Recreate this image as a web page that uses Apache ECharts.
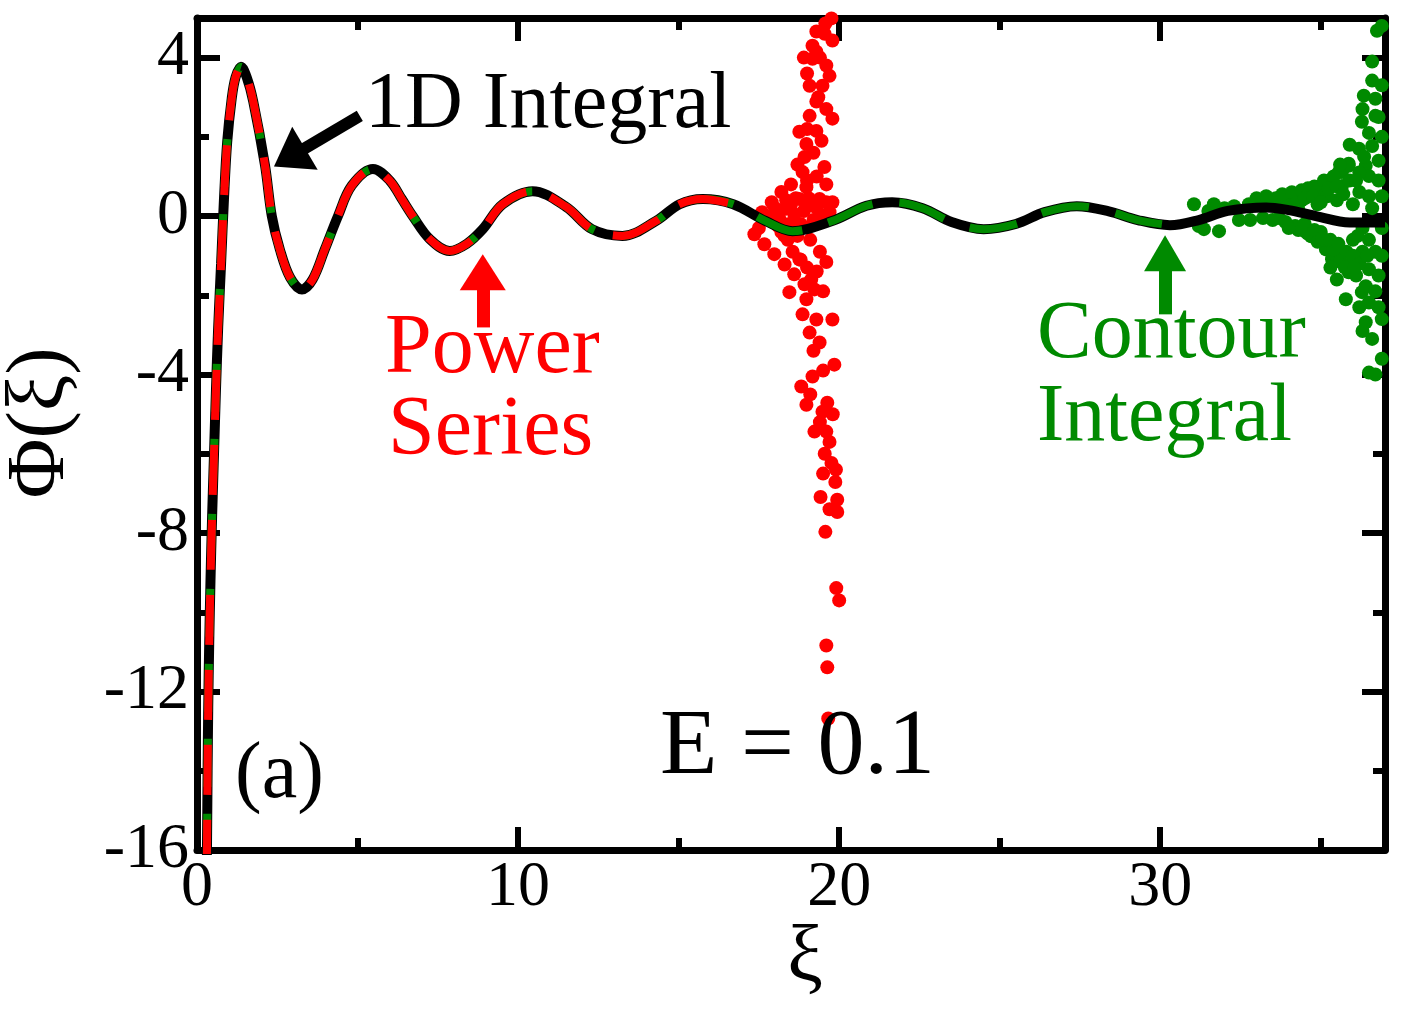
<!DOCTYPE html>
<html><head><meta charset="utf-8">
<script src="https://cdn.jsdelivr.net/npm/echarts@6/dist/echarts.min.js"></script>
<style>html,body{margin:0;padding:0;background:#fff;}#c{width:1401px;height:1010px;}</style>
</head><body><div id="c"></div><script>
// ---- data ----
const xTickLabels = [0, 10, 20, 30];
const yTickLabels = [-16, -12, -8, -4, 0, 4];
const xRange = [0, 37];
const yRange = [-16, 5];

// 1D integral curve (xi, Phi)
const curve = [
  [0.30,-16.5],[0.31,-16.0],[0.33,-14.0],[0.35,-12.4],[0.38,-10.8],[0.42,-9.2],[0.47,-7.6],
  [0.53,-6.0],[0.59,-4.4],[0.66,-2.8],[0.75,-1.2],[0.84,0.43],[0.94,1.87],[1.08,2.96],
  [1.2,3.5],[1.37,3.77],[1.55,3.5],[1.75,2.9],[2.12,1.27],[2.33,0.0],[2.58,-0.84],
  [2.9,-1.55],[3.27,-1.85],[3.6,-1.6],[3.98,-0.84],[4.39,0.0],[4.82,0.77],[5.48,1.19],
  [6.0,0.9],[6.38,0.43],[6.72,0.0],[7.25,-0.58],[7.87,-0.88],[8.4,-0.7],[8.9,-0.33],
  [9.52,0.3],[10.45,0.63],[11.5,0.23],[12.3,-0.33],[13.25,-0.5],[14.3,-0.12],[15.03,0.3],
  [15.75,0.43],[16.7,0.3],[17.7,-0.12],[18.55,-0.38],[19.8,-0.12],[20.85,0.26],[21.65,0.35],
  [22.6,0.2],[23.5,-0.15],[24.5,-0.33],[25.5,-0.2],[26.4,0.1],[27.4,0.25],[28.4,0.12],
  [29.3,-0.1],[30.3,-0.23],[31.2,-0.1],[32.1,0.13],[33.3,0.22],[34.0,0.15],[34.85,0.0],
  [35.9,-0.16],[37.0,-0.16]
];
const powerSeriesLineEnd = 17.0;   // power-series line stops here, then diverges
const contourLineEnd = 30.6;       // contour-integral line stops here, then scatters

// divergent power-series points (xi, Phi)
const powerSeriesScatter = [
  [19.29,4.66],[19.79,4.43],[19.17,4.30],[19.29,4.15],[19.17,3.97],[19.70,3.54],[19.08,3.29],
  [19.48,3.29],[19.29,2.89],[19.08,2.53],[19.79,2.46],[18.76,2.13],[19.29,2.15],[18.98,1.82],
  [18.92,1.49],[19.54,1.24],[18.86,1.11],[18.98,0.73],[18.20,0.61],[18.76,0.43],[19.39,0.43],
  [19.79,0.35],[18.3,0.18],[18.6,0.05],[18.9,0.13],[18.45,-0.2],[18.9,-0.28],[18.14,-0.08],
  [17.83,-0.03],[18.0,0.2],[18.5,0.3],[19.0,0.25],[19.2,-0.1],[18.7,-0.5],[19.1,-0.6],
  [18.4,-0.6],[19.4,-0.9],[18.2,-0.4],[19.5,0.0],[17.6,0.1],
  [17.36,-0.46],[17.67,-0.71],[17.98,-0.96],[18.3,-1.22],[18.6,-1.47],[18.92,-1.72],
  [19.23,-1.85],[19.13,-1.6],[19.6,-1.16],[18.76,-1.09],[18.45,-1.92],[18.98,-2.10],
  [18.86,-2.48],[19.29,-2.61],[19.79,-2.61],[19.08,-2.94],[19.39,-3.19],[19.85,-3.75],
  [19.17,-4.05],[18.82,-4.30],[18.98,-4.76],[19.48,-4.94],[19.63,-4.71],[19.23,-5.44],
  [19.6,-5.44],[19.70,-5.70],[19.76,-6.23],[19.88,-6.71],[19.42,-7.09],[19.94,-7.16],
  [19.94,-7.47],[19.57,-7.97],[19.91,-9.39],[20.0,-9.70],[19.6,-10.84],[19.63,-11.39],
  [19.66,-12.68],[19.57,4.86],[19.76,4.99],
  [19.4,4.0],[19.6,3.8],[19.0,3.6],[19.35,3.0],[19.6,2.7],[19.0,2.2],[19.45,1.9],[19.2,1.6],
  [18.7,1.3],[19.3,1.0],[19.0,0.9],[19.6,0.8],[18.5,0.8],[18.9,4.0],[19.55,4.6],
  [17.9,0.35],[18.1,-0.25],[18.35,0.4],[18.65,0.45],[18.8,-0.2],[19.05,0.45],[19.3,0.2],
  [19.6,0.35],[19.7,0.1],[18.55,-0.9],[18.8,-1.1],[19.0,-1.3],[19.3,-1.4],[19.5,-1.9],
  [18.3,-0.5],[17.5,-0.3],[19.2,-3.4],[19.5,-3.9],[19.1,-4.5],[19.4,-5.2],[19.8,-5.0],
  [19.55,-6.0],[19.9,-6.4],[19.7,-7.4],[19.5,-6.5]
];

// scattered contour-integral points (xi, Phi)
const contourScatter = [
  [31.05,0.3],[31.2,-0.25],[31.36,-0.33],[31.5,0.13],[31.67,0.3],[31.83,-0.38],[32.0,0.2],
  [32.45,-0.1],[32.76,0.3],[33.1,0.35],[33.4,0.32],[33.7,-0.05],[34.0,0.43],[34.2,-0.25],
  [34.3,0.18],[34.5,-0.38],[34.63,0.51],[34.7,-0.51],[35.03,0.61],[35.16,-0.84],[35.35,-1.09],
  [35.47,-1.01],[35.56,1.11],[35.66,0.76],[35.66,1.11],[35.87,1.32],[35.87,1.27],[35.87,-1.27],
  [35.87,-1.42],[35.97,-1.16],[36.19,1.70],[36.2,0.61],[36.28,2.38],[36.28,-1.92],[36.34,3.04],
  [36.4,1.27],[36.4,-1.77],[36.4,-2.68],[36.5,1.01],[36.5,-1.34],[36.5,-2.18],[36.5,-3.95],
  [36.6,3.42],[36.6,1.77],[36.6,0.2],[36.7,2.96],[36.7,2.53],[36.7,-4.0],[36.75,4.68],
  [35.78,-2.10],[35.5,0.4],[35.2,0.5],[35.0,-0.4],[36.0,0.3],[36.0,-0.6],[36.8,-1.5],
  [36.8,0.9],[36.9,-2.6],[36.9,2.0],[36.9,4.8],[34.9,0.3],[35.3,0.8],[35.9,0.9],[36.3,-0.9],
  [34.4,0.4],[33.9,0.3],[36.1,-1.5],
  [33.0,0.45],[33.3,0.5],[33.6,0.45],[33.8,0.55],[34.1,0.6],[34.4,0.65],[34.6,0.7],[34.8,0.75],
  [35.1,0.9],[35.4,1.0],[35.6,1.3],[33.2,-0.05],[33.5,-0.1],[33.9,-0.15],[34.3,-0.35],
  [34.6,-0.45],[34.9,-0.65],[35.1,-0.6],[35.4,-0.85],[35.6,-1.15],[35.8,-0.9],[36.0,-1.0],
  [36.2,-1.2],[36.3,-0.3],[36.5,-0.6],[36.7,-0.9],[36.9,-0.3],[36.9,0.5],[36.5,0.5],[36.2,1.1],
  [36.8,1.4],[35.9,1.8],[36.5,2.1],[36.8,2.5],[36.3,2.7],[36.9,3.3],[36.6,3.9],[36.9,-1.0],
  [36.7,-1.9],[36.8,-2.3],[36.2,-2.3],[36.6,-3.1],[36.9,-3.6],[36.3,-2.9],[35.5,-1.6],
  [35.3,-1.3],[34.0,-0.3],[32.8,-0.1],[32.3,0.25],
  [34.2,0.3],[34.5,0.45],[34.75,0.5],[35.0,0.35],[35.25,0.7],[35.5,0.75],[35.7,0.55],
  [34.5,-0.2],[34.8,-0.35],[35.05,-0.55],[35.3,-0.6],[35.55,-0.7],[35.75,-1.3],[36.05,-1.3],
  [36.1,0.9],[36.35,1.5],[36.45,-1.0],[36.15,-0.5]
];

// annotation arrows: [tail, end] in data coords
const arrow1D = [[5.07,2.53],[2.88,1.48]];
const arrowPower = [[8.9,-2.81],[8.9,-1.42]];
const arrowContour = [[30.15,-2.48],[30.15,-0.94]];

// ---- chart ----
const FONT = '"Liberation Serif", "Times New Roman", serif';
const chart = echarts.init(document.getElementById('c'), null, {renderer: 'canvas'});

const powerLine = curve.filter(p => p[0] <= powerSeriesLineEnd);
const contourLine = curve.filter(p => p[0] <= contourLineEnd);

function xAx(pos, interval, len, showLabel, showLine) {
  return {
    type: 'value', position: pos, min: xRange[0], max: xRange[1], interval: interval,
    axisLine: {show: showLine, onZero: false, lineStyle: {color: '#000', width: 7}},
    axisTick: {show: true, inside: true, length: len, lineStyle: {color: '#000', width: 6}},
    axisLabel: {show: showLabel, showMaxLabel: false, margin: 6, color: '#000',
      fontFamily: FONT, fontSize: 64,
      formatter: v => xTickLabels.indexOf(v) >= 0 ? String(v) : ''},
    splitLine: {show: false}
  };
}
function yAx(pos, interval, len, showLabel, showLine) {
  return {
    type: 'value', position: pos, min: yRange[0], max: yRange[1], interval: interval,
    axisLine: {show: showLine, onZero: false, lineStyle: {color: '#000', width: 7}},
    axisTick: {show: true, inside: true, length: len, lineStyle: {color: '#000', width: 6}},
    axisLabel: {show: showLabel, showMaxLabel: false, margin: 8, color: '#000',
      fontFamily: FONT, fontSize: 64,
      formatter: v => yTickLabels.indexOf(v) >= 0 ? String(v) : ''},
    splitLine: {show: false}
  };
}

function arrowSeries(pts, color, width, head) {
  return {
    type: 'scatter', data: [], xAxisIndex: 0, yAxisIndex: 0, z: 10, silent: true,
    markLine: {
      silent: true, animation: false, symbol: ['none', 'triangle'], symbolSize: head,
      label: {show: false}, emphasis: {disabled: true},
      lineStyle: {color: color, width: width, type: 'solid', opacity: 1},
      itemStyle: {color: color},
      data: [[{coord: pts[0]}, {coord: pts[1]}]]
    }
  };
}

const option = {
  animation: false,
  backgroundColor: '#fff',
  grid: {left: 197, right: 16, top: 18, bottom: 160, containLabel: false, outerBoundsMode: 'none'},
  xAxis: [
    xAx('bottom', 10, 23, true, true),
    xAx('bottom', 5, 12, false, false),
    xAx('top', 10, 23, false, true),
    xAx('top', 5, 12, false, false)
  ],
  yAxis: [
    yAx('left', 4, 23, true, true),
    yAx('left', 2, 12, false, false),
    yAx('right', 4, 23, false, true),
    yAx('right', 2, 12, false, false)
  ],
  series: [
    {type: 'scatter', name: 'Power Series scatter', data: powerSeriesScatter, symbol: 'circle',
     symbolSize: 14, itemStyle: {color: '#ff0000', opacity: 1}, z: 2, silent: true, clip: true},
    {type: 'scatter', name: 'Contour scatter', data: contourScatter, symbol: 'circle',
     symbolSize: 14, itemStyle: {color: '#008a00', opacity: 1}, z: 2, silent: true, clip: true},
    {type: 'line', name: '1D Integral', data: curve, showSymbol: false, symbol: 'none',
     smooth: 0.35, clip: true, z: 3,
     lineStyle: {color: '#000', width: 10, cap: 'butt'}},
    {type: 'line', name: 'Contour Integral', data: contourLine, showSymbol: false, symbol: 'none',
     smooth: 0.35, clip: true, z: 4,
     lineStyle: {color: '#008a00', width: 8, type: [48, 27], dashOffset: -8, cap: 'butt'}},
    {type: 'line', name: 'Power Series', data: powerLine, showSymbol: false, symbol: 'none',
     smooth: 0.35, clip: true, z: 5,
     lineStyle: {color: '#ff0000', width: 8, type: [50, 25], cap: 'butt'}},
    arrowSeries(arrow1D, '#000', 12, [50, 36]),
    arrowSeries(arrowPower, '#ff0000', 13, [46, 36]),
    arrowSeries(arrowContour, '#008a00', 13, [42, 36])
  ],
  graphic: [
    {type: 'text', x: 365, y: 106, z: 20, style: {text: '1D Integral', font: '80px ' + FONT, fill: '#000', align: 'left', verticalAlign: 'middle'}},
    {type: 'text', x: 385, y: 350, z: 20, style: {text: 'Power', font: '84px ' + FONT, fill: '#ff0000', align: 'left', verticalAlign: 'middle'}},
    {type: 'text', x: 388, y: 432, z: 20, style: {text: 'Series', font: '84px ' + FONT, fill: '#ff0000', align: 'left', verticalAlign: 'middle'}},
    {type: 'text', x: 1037, y: 335, z: 20, style: {text: 'Contour', font: '82px ' + FONT, fill: '#008a00', align: 'left', verticalAlign: 'middle'}},
    {type: 'text', x: 1037, y: 418, z: 20, style: {text: 'Integral', font: '82px ' + FONT, fill: '#008a00', align: 'left', verticalAlign: 'middle'}},
    {type: 'text', x: 660, y: 748, z: 20, style: {text: 'E = 0.1', font: '94px ' + FONT, fill: '#000', align: 'left', verticalAlign: 'middle'}},
    {type: 'text', x: 235, y: 776, z: 20, style: {text: '(a)', font: '80px ' + FONT, fill: '#000', align: 'left', verticalAlign: 'middle'}},
    {type: 'text', x: 805, y: 960, z: 20, style: {text: 'ξ', font: '80px ' + FONT, fill: '#000', align: 'center', verticalAlign: 'middle'}},
    {type: 'text', x: 41, y: 423, rotation: Math.PI / 2, z: 20, style: {text: 'Φ(ξ)', font: '82px ' + FONT, fill: '#000', align: 'center', verticalAlign: 'middle'}}
  ]
};
chart.setOption(option);
</script></body></html>
